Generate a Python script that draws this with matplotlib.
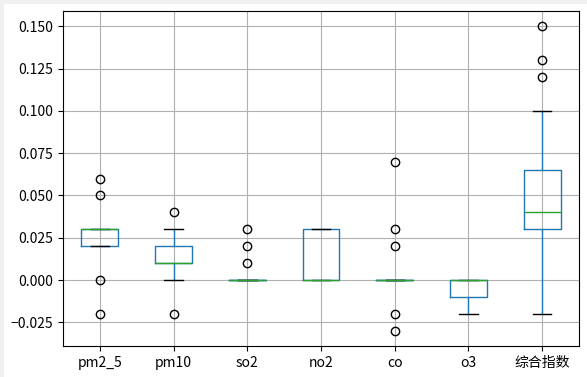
import numpy as np
import pandas as pd
import matplotlib
matplotlib.use("Agg")
import matplotlib.pyplot as plt
from matplotlib.patches import Rectangle

plt.rcParams['font.family'] = ['Noto Sans CJK SC', 'DejaVu Sans']
plt.rcParams['axes.unicode_minus'] = True

# 各指标变化量（30 个样本）
pm2_5 = [-0.02, 0.0] + [0.02] * 10 + [0.03] * 16 + [0.05, 0.06]
pm10 = [-0.02] + [0.0] * 3 + [0.01] * 14 + [0.02] * 8 + [0.03] * 3 + [0.04]
so2 = [0.0] * 27 + [0.01, 0.02, 0.03]
no2 = [0.0] * 18 + [0.03] * 12
co = [-0.03, -0.02] + [0.0] * 25 + [0.02, 0.03, 0.07]
o3 = [-0.02] * 3 + [-0.01] * 8 + [0.0] * 19
zonghe = [-0.02, 0.0, 0.01, 0.02, 0.02] + [0.03] * 5 + [0.04] * 6 + [0.05] * 6 \
    + [0.07, 0.07, 0.08, 0.09, 0.10, 0.12, 0.13, 0.15]

df = pd.DataFrame({'pm2_5': pm2_5, 'pm10': pm10, 'so2': so2, 'no2': no2,
                   'co': co, 'o3': o3, '综合指数': zonghe})

fig = plt.figure(figsize=(5.87, 3.77), dpi=100)
fig.set_facecolor('#f0f0f0')
fig.patches.append(Rectangle((4 / 587, 0), 1, 1 - 4 / 377, transform=fig.transFigure,
                             facecolor='white', edgecolor='none', zorder=-10))
ax = fig.add_axes([63 / 587, 31 / 377, 516 / 587, 335 / 377])
df.boxplot(ax=ax)
ax.tick_params(labelsize=10)
fig.savefig('out.png', dpi=100)
